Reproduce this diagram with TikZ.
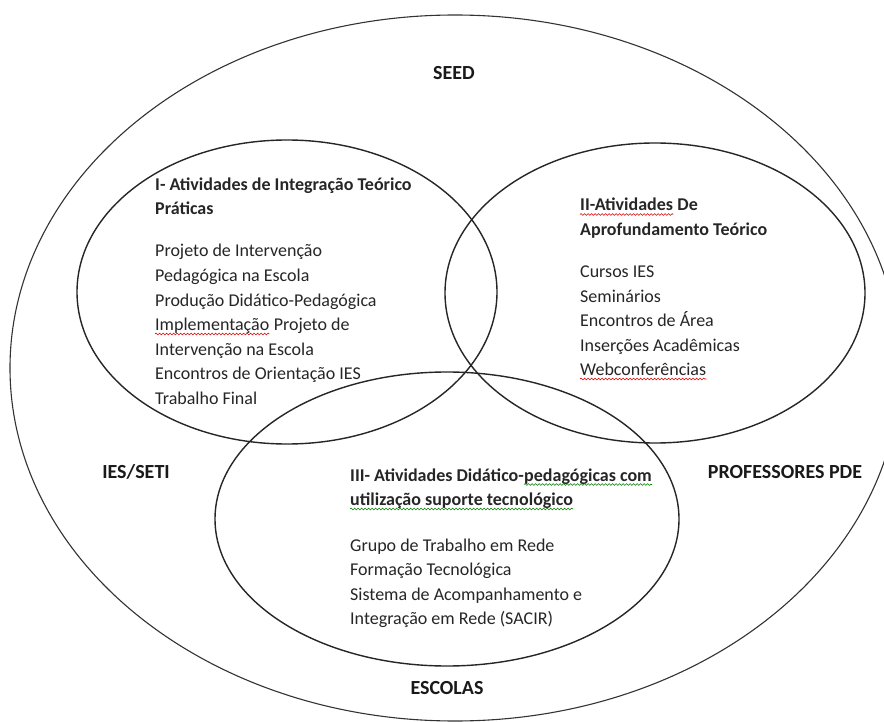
\documentclass[tikz,border=0pt]{standalone}
\usepackage{fontspec}
\setmainfont{Carlito}
\usetikzlibrary{decorations.pathmorphing}
\tikzset{
  ring/.style={draw=black!85, line width=1.4pt},
  outerring/.style={draw=black!80, line width=1.1pt},
  txt/.style={anchor=base west, inner sep=0pt, text=black!85, font=\fontsize{18pt}{22pt}\selectfont},
  ttl/.style={txt, font=\fontsize{18pt}{22pt}\selectfont\bfseries},
  lbl/.style={anchor=base, inner sep=0pt, text=black!90, font=\fontsize{20pt}{24pt}\selectfont\bfseries},
  wave/.style={decorate, decoration={snake, amplitude=0.9pt, segment length=3.5pt}, line width=0.6pt},
  redwave/.style={wave, draw=red!85!black},
  greenwave/.style={wave, draw=green!50!black}
}
\begin{document}
\begin{tikzpicture}[x=1pt,y=-1pt]
\useasboundingbox (0,0) rectangle (884,722);
\fill[white] (0,0) rectangle (884,722);
\clip (0,0) rectangle (884,722);
% outer ellipse
\draw[outerring] (455,368) ellipse [x radius=445pt, y radius=353pt];
% circles
\draw[ring] (287,292) ellipse [x radius=210pt, y radius=152pt];
\draw[ring] (655,293) ellipse [x radius=210pt, y radius=150pt];
\draw[ring] (447,519) ellipse [x radius=232pt, y radius=147pt];
% labels
\node[lbl] (seed) at (454,80) {SEED};
\node[lbl] (ies) at (136,478) {IES/SETI};
\node[lbl] (prof) at (785,478) {PROFESSORES PDE};
\node[lbl] (esc) at (447,694) {ESCOLAS};
% block I
\node[ttl] (a1) at (155,191) {I- Atividades de Integração Teórico};
\node[ttl] (a2) at (155,215) {Práticas};
\node[txt] (a3) at (155,257) {Projeto de Intervenção};
\node[txt] (a4) at (155,281.5) {Pedagógica na Escola};
\node[txt] (a5) at (155,306) {Produção Didático-Pedagógica};
\node[txt] (a6w) at (155,330.5) {Implementação};
\node[txt] (a6) at (a6w.base east) {\ Projeto de};
\node[txt] (a7) at (155,355) {Intervenção na Escola};
\node[txt] (a8) at (155,379.5) {Encontros de Orientação IES};
\node[txt] (a9) at (155,404) {Trabalho Final};
% block II
\node[ttl] (b1w) at (580,211) {II-Atividades};
\node[ttl] (b1) at (b1w.base east) {\ De};
\node[ttl] (b2) at (580,235.5) {Aprofundamento Teórico};
\node[txt] (b3) at (580,277.5) {Cursos IES};
\node[txt] (b4) at (580,302) {Seminários};
\node[txt] (b5) at (580,326.5) {Encontros de Área};
\node[txt] (b6) at (580,351) {Inserções Acadêmicas};
\node[txt] (b7) at (580,375.5) {Webconferências};
% block III
\node[ttl] (c1) at (350,481) {III- Atividades Didático-};
\node[ttl] (c1w) at (c1.base east) {pedagógicas com};
\node[ttl] (c2) at (350,505.5) {utilização suporte tecnológico};
\node[txt] (c3) at (350,551) {Grupo de Trabalho em Rede};
\node[txt] (c4) at (350,575.5) {Formação Tecnológica};
\node[txt] (c5) at (350,600) {Sistema de Acompanhamento e};
\node[txt] (c6) at (350,624.5) {Integração em Rede (SACIR)};
% spell-check underlines
\draw[redwave] ([yshift=-3.5pt]a6w.base west) -- ([yshift=-3.5pt]a6w.base east);
\draw[redwave] ([yshift=-3.5pt]b1w.base west) -- ([yshift=-3.5pt]b1w.base east);
\draw[redwave] ([yshift=-3.5pt]b7.base west) -- ([yshift=-3.5pt]b7.base east);
\draw[greenwave] ([yshift=-3.5pt]c1w.base west) -- ([yshift=-3.5pt]c1w.base east);
\draw[greenwave] ([yshift=-3.5pt]c2.base west) -- ([yshift=-3.5pt]c2.base east);
\end{tikzpicture}
\end{document}
